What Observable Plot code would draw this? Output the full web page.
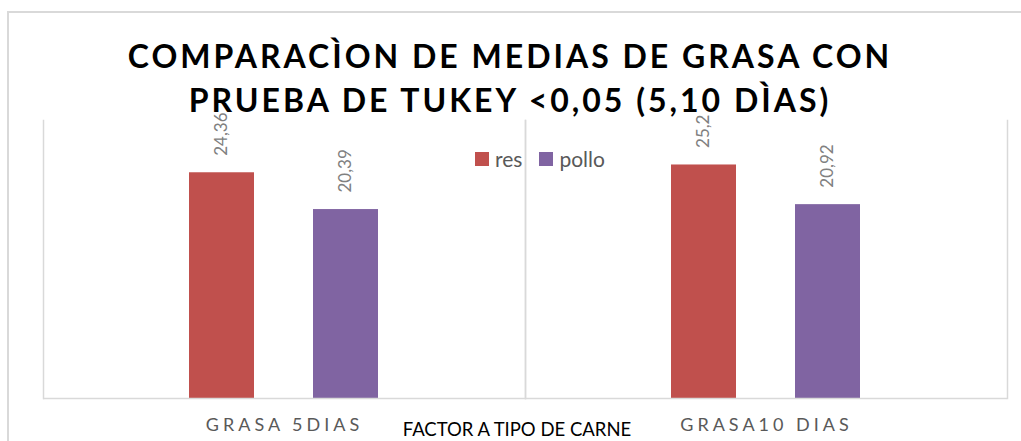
<!DOCTYPE html>
<html>
<head>
<meta charset="utf-8">
<script src="https://cdn.jsdelivr.net/npm/d3@7"></script>
<script src="https://cdn.jsdelivr.net/npm/@observablehq/plot@0.6"></script>
<style>
  html, body { margin: 0; padding: 0; background: #fff; }
  #wrap { position: relative; width: 1021px; height: 441px; overflow: hidden; background: #fff; font-family: Lato, "Open Sans", sans-serif; }
  #box { position: absolute; left: 7px; top: 11px; width: 1100px; height: 500px; border-left: 2px solid #d9d9d9; border-top: 2px solid #d9d9d9; }
  #chart { position: absolute; left: 0; top: 0; }
  #title { position: absolute; left: 0; top: 34px; width: 1020px; text-align: center; font-weight: 700; font-size: 32px; line-height: 44px; letter-spacing: 3px; color: #000; }
  #legend { position: absolute; left: 475px; top: 148px; font-size: 21px; line-height: 21px; color: #595959; white-space: nowrap; }
  #legend .item { display: inline-block; margin-right: 17px; }
  #legend .sw { display: inline-block; width: 14px; height: 14px; margin-right: 6px; vertical-align: 1px; }
  #xtitle { position: absolute; left: 317px; top: 420px; width: 400px; text-align: center; font-size: 18.5px; line-height: 19px; color: #000; }
  #chart svg g[aria-label^="fx-axis"] text { letter-spacing: 4px; fill: #595959; font-size: 18px; }
</style>
</head>
<body>
<div id="wrap">
  <div id="box"></div>
  <div id="chart"></div>
  <div id="title"></div>
  <div id="legend"></div>
  <div id="xtitle"></div>
</div>
<script>
const titleLines = ["COMPARACÌON DE MEDIAS DE GRASA CON", "PRUEBA DE TUKEY <0,05 (5,10 DÌAS)"];
const axisTitle = "FACTOR A TIPO DE CARNE";
const groups = ["GRASA 5DIAS", "GRASA10 DIAS"];
const series = ["res", "pollo"];
const resValues = [24.36, 25.2];
const polloValues = [20.39, 20.92];
const colors = ["#C0504D", "#8064A2"];

const seriesValues = { res: resValues, pollo: polloValues };
const data = groups.flatMap((g, i) => series.map(s => ({ group: g, serie: s, value: seriesValues[s][i] })));
const fmt = v => String(v).replace(".", ",");

const chart = Plot.plot({
  width: 1021,
  height: 441,
  marginTop: 120,
  marginBottom: 43,
  marginLeft: 42,
  marginRight: 14,
  style: { background: "transparent", fontFamily: "Lato, 'Open Sans', sans-serif" },
  facet: { data, x: "group" },
  fx: { domain: groups, padding: 0, label: null, tickSize: 0, tickPadding: 20 },
  x: { domain: series, paddingInner: 0.472, paddingOuter: 1.166, axis: null },
  y: { domain: [0, 30], axis: null },
  color: { domain: series, range: colors },
  marks: [
    Plot.frame({ anchor: "left", stroke: "#d9d9d9", strokeWidth: 1.5 }),
    Plot.frame({ anchor: "right", stroke: "#d9d9d9", strokeWidth: 1.5 }),
    Plot.barY(data, { x: "serie", y: "value", fill: "serie" }),
    Plot.ruleY([0], { stroke: "#d9d9d9", strokeWidth: 1.5 }),
    Plot.text(data, { x: "serie", y: "value", text: d => fmt(d.value), rotate: -90, textAnchor: "start", dy: -17, fill: "#808080", fontSize: 17 })
  ]
});
document.getElementById("chart").appendChild(chart);

document.getElementById("title").innerHTML = titleLines.map(t => t.replace(/&/g, "&amp;").replace(/</g, "&lt;")).join("<br>");
document.getElementById("xtitle").textContent = axisTitle;
document.getElementById("legend").innerHTML = series.map((s, i) =>
  `<span class="item"><span class="sw" style="background:${colors[i]}"></span>${s}</span>`).join("");
</script>
</body>
</html>
